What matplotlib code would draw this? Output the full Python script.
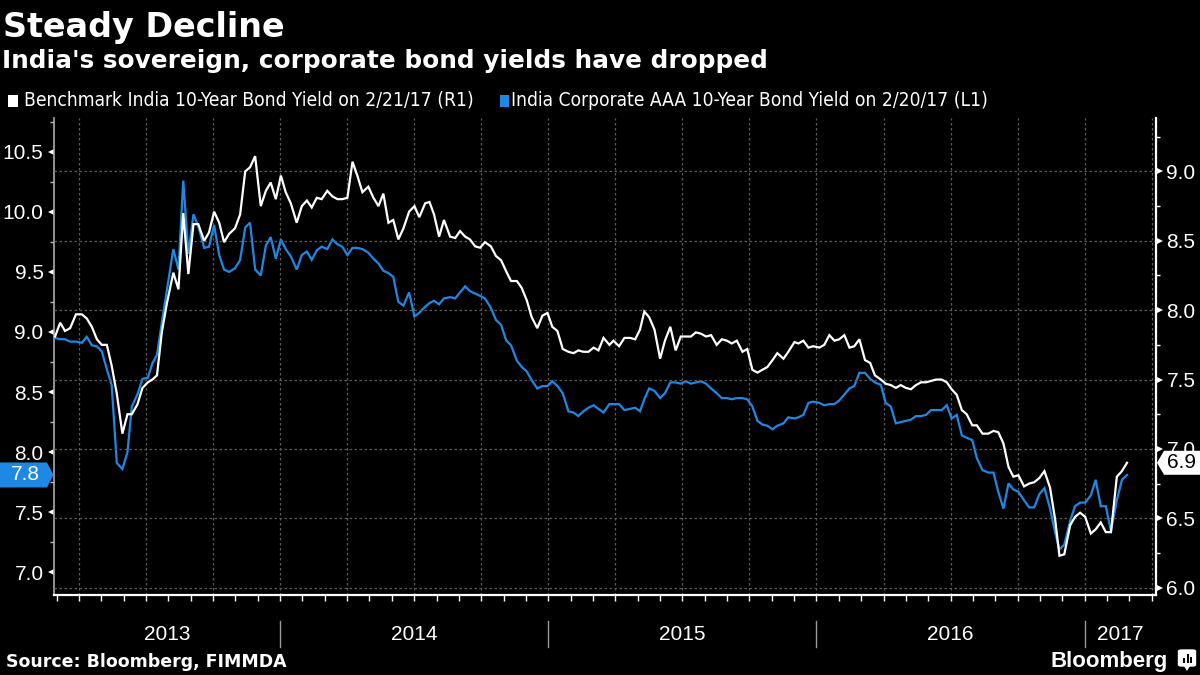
import matplotlib
matplotlib.use('Agg')
import matplotlib.pyplot as plt
import matplotlib.transforms as mtrans
from matplotlib.patches import Polygon, Rectangle, FancyBboxPatch
from matplotlib.ticker import FixedLocator, FormatStrFormatter
from matplotlib import font_manager as fm
import numpy as np

# ---------------- data (decimal years, weekly readings) ----------------
t = [2013.161, 2013.180, 2013.198, 2013.217, 2013.239, 2013.261, 2013.279, 2013.298, 2013.317, 2013.335,
     2013.354, 2013.372, 2013.391, 2013.412, 2013.431, 2013.447, 2013.468, 2013.487, 2013.507, 2013.524,
     2013.541, 2013.559, 2013.578, 2013.602, 2013.621, 2013.639, 2013.658, 2013.677, 2013.695, 2013.717,
     2013.735, 2013.754, 2013.773, 2013.791, 2013.810, 2013.832, 2013.851, 2013.870, 2013.888, 2013.907,
     2013.928, 2013.947, 2013.965, 2013.984, 2014.003, 2014.021, 2014.040, 2014.062, 2014.081, 2014.100,
     2014.118, 2014.137, 2014.155, 2014.176, 2014.195, 2014.214, 2014.232, 2014.251, 2014.270, 2014.288,
     2014.307, 2014.329, 2014.348, 2014.367, 2014.385, 2014.404, 2014.422, 2014.441, 2014.460, 2014.481,
     2014.501, 2014.519, 2014.541, 2014.557, 2014.574, 2014.593, 2014.611, 2014.634, 2014.653, 2014.671,
     2014.690, 2014.708, 2014.727, 2014.746, 2014.764, 2014.786, 2014.805, 2014.824, 2014.843, 2014.861,
     2014.883, 2014.901, 2014.920, 2014.938, 2014.959, 2014.978, 2014.997, 2015.015, 2015.034, 2015.054,
     2015.075, 2015.094, 2015.112, 2015.131, 2015.150, 2015.169, 2015.187, 2015.206, 2015.228, 2015.243,
     2015.264, 2015.284, 2015.305, 2015.324, 2015.342, 2015.358, 2015.376, 2015.396, 2015.417, 2015.435,
     2015.455, 2015.475, 2015.494, 2015.513, 2015.532, 2015.550, 2015.570, 2015.588, 2015.607, 2015.628,
     2015.647, 2015.666, 2015.684, 2015.703, 2015.724, 2015.742, 2015.761, 2015.780, 2015.798, 2015.817,
     2015.836, 2015.854, 2015.877, 2015.895, 2015.918, 2015.933, 2015.951, 2015.970, 2015.988, 2016.011,
     2016.029, 2016.048, 2016.067, 2016.085, 2016.104, 2016.123, 2016.141, 2016.160, 2016.181, 2016.200,
     2016.218, 2016.240, 2016.258, 2016.277, 2016.296, 2016.314, 2016.333, 2016.352, 2016.371, 2016.390,
     2016.409, 2016.427, 2016.446, 2016.467, 2016.486, 2016.504, 2016.523, 2016.542, 2016.560, 2016.581,
     2016.598, 2016.619, 2016.641, 2016.660, 2016.678, 2016.697, 2016.716, 2016.734, 2016.753, 2016.774,
     2016.793, 2016.812, 2016.831, 2016.850, 2016.871, 2016.890, 2016.906, 2016.924, 2016.946, 2016.964,
     2016.983, 2017.002, 2017.023, 2017.041, 2017.060, 2017.079, 2017.098, 2017.120, 2017.139, 2017.158]

# Benchmark India 10-Year Bond Yield (right axis, R1)
sovereign = [7.81, 7.91, 7.85, 7.87, 7.97, 7.97, 7.94, 7.88, 7.79, 7.75,
             7.75, 7.60, 7.40, 7.11, 7.25, 7.25, 7.32, 7.44, 7.48, 7.50,
             7.53, 7.84, 8.05, 8.27, 8.15, 8.70, 8.26, 8.62, 8.62, 8.50,
             8.56, 8.71, 8.63, 8.49, 8.55, 8.59, 8.69, 9.00, 9.03, 9.11,
             8.75, 8.86, 8.92, 8.80, 8.97, 8.85, 8.77, 8.63, 8.75, 8.79,
             8.74, 8.81, 8.80, 8.86, 8.82, 8.80, 8.80, 8.81, 9.07, 8.97,
             8.85, 8.89, 8.81, 8.75, 8.84, 8.63, 8.65, 8.51, 8.59, 8.71,
             8.75, 8.67, 8.77, 8.78, 8.69, 8.53, 8.65, 8.53, 8.52, 8.57,
             8.53, 8.51, 8.46, 8.45, 8.49, 8.46, 8.39, 8.36, 8.28, 8.21,
             8.21, 8.16, 8.07, 7.95, 7.87, 7.96, 7.98, 7.88, 7.85, 7.72,
             7.70, 7.69, 7.71, 7.70, 7.70, 7.73, 7.71, 7.80, 7.75, 7.78,
             7.74, 7.80, 7.80, 7.79, 7.86, 7.99, 7.95, 7.86, 7.65, 7.78,
             7.88, 7.71, 7.81, 7.81, 7.81, 7.84, 7.83, 7.81, 7.82, 7.75,
             7.79, 7.78, 7.76, 7.78, 7.70, 7.72, 7.57, 7.55, 7.57, 7.59,
             7.64, 7.69, 7.65, 7.70, 7.77, 7.76, 7.78, 7.73, 7.74, 7.73,
             7.75, 7.82, 7.78, 7.79, 7.82, 7.73, 7.74, 7.79, 7.64, 7.62,
             7.53, 7.50, 7.47, 7.46, 7.44, 7.46, 7.44, 7.43, 7.46, 7.48,
             7.48, 7.49, 7.50, 7.50, 7.48, 7.43, 7.39, 7.28, 7.25, 7.17,
             7.17, 7.11, 7.11, 7.13, 7.12, 7.04, 6.87, 6.80, 6.81, 6.73,
             6.75, 6.76, 6.79, 6.84, 6.72, 6.49, 6.23, 6.24, 6.45, 6.51,
             6.54, 6.51, 6.39, 6.42, 6.47, 6.40, 6.40, 6.80, 6.84, 6.90]

# India Corporate AAA 10-Year Bond Yield (left axis, L1)
corporate = [8.95, 8.94, 8.94, 8.92, 8.92, 8.91, 8.96, 8.89, 8.88, 8.84,
             8.69, 8.56, 7.91, 7.86, 8.00, 8.38, 8.48, 8.61, 8.62, 8.74,
             8.81, 9.08, 9.35, 9.69, 9.52, 10.26, 9.65, 9.98, 9.88, 9.70,
             9.71, 9.89, 9.64, 9.52, 9.50, 9.53, 9.60, 9.87, 9.91, 9.52,
             9.47, 9.72, 9.79, 9.61, 9.77, 9.69, 9.63, 9.52, 9.64, 9.67,
             9.60, 9.68, 9.71, 9.69, 9.77, 9.73, 9.71, 9.64, 9.70, 9.70,
             9.69, 9.66, 9.61, 9.57, 9.51, 9.49, 9.46, 9.25, 9.22, 9.33,
             9.13, 9.16, 9.21, 9.24, 9.26, 9.23, 9.28, 9.29, 9.28, 9.33,
             9.38, 9.34, 9.32, 9.30, 9.28, 9.20, 9.10, 9.06, 8.93, 8.89,
             8.76, 8.71, 8.67, 8.60, 8.53, 8.55, 8.55, 8.59, 8.55, 8.49,
             8.34, 8.33, 8.30, 8.34, 8.37, 8.39, 8.36, 8.33, 8.40, 8.40,
             8.40, 8.35, 8.36, 8.37, 8.34, 8.44, 8.53, 8.51, 8.45, 8.49,
             8.58, 8.58, 8.57, 8.59, 8.57, 8.58, 8.59, 8.57, 8.53, 8.49,
             8.45, 8.45, 8.44, 8.45, 8.45, 8.44, 8.38, 8.26, 8.23, 8.22,
             8.19, 8.22, 8.24, 8.29, 8.28, 8.29, 8.31, 8.41, 8.42, 8.41,
             8.39, 8.40, 8.40, 8.43, 8.48, 8.53, 8.55, 8.66, 8.66, 8.61,
             8.58, 8.56, 8.41, 8.38, 8.24, 8.25, 8.26, 8.27, 8.30, 8.30,
             8.31, 8.35, 8.35, 8.35, 8.39, 8.28, 8.31, 8.14, 8.12, 8.10,
             7.95, 7.85, 7.83, 7.83, 7.67, 7.53, 7.74, 7.69, 7.67, 7.60,
             7.54, 7.54, 7.65, 7.70, 7.53, 7.33, 7.19, 7.23, 7.43, 7.55,
             7.58, 7.58, 7.64, 7.77, 7.55, 7.55, 7.34, 7.60, 7.77, 7.81]

years = [2013, 2014, 2015, 2016, 2017]
left_ticks = [7.0, 7.5, 8.0, 8.5, 9.0, 9.5, 10.0, 10.5]
right_ticks = [6.0, 6.5, 7.0, 7.5, 8.0, 8.5, 9.0]

title = "Steady Decline"
subtitle = "India's sovereign, corporate bond yields have dropped"
label_sov = "Benchmark India 10-Year Bond Yield on 2/21/17 (R1)"
label_corp = "India Corporate AAA 10-Year Bond Yield on 2/20/17 (L1)"
source = "Source: Bloomberg, FIMMDA"

# ---------------- style ----------------
names = {f.name for f in fm.fontManager.ttflist}
SANS = 'Liberation Sans' if 'Liberation Sans' in names else 'DejaVu Sans'
NARROW = 'Liberation Sans Narrow' if 'Liberation Sans Narrow' in names else 'DejaVu Sans'
BLUE = '#1f88e5'
GRID = '#5c5c5c'
W, H = 1200, 675
L, R, B, T = 54, 1156, 595, 118

fig = plt.figure(figsize=(12, 6.75), dpi=100, facecolor='black')
ax = fig.add_axes([L / W, 1 - B / H, (R - L) / W, (B - T) / H])
ax.set_facecolor('black')
ax2 = ax.twinx()

ax.plot(t, corporate, color=BLUE, lw=1.6, solid_joinstyle='miter', zorder=3)
ax2.plot(t, sovereign, color='white', lw=1.6, solid_joinstyle='miter', zorder=3)

xmin, xmax = 2013.157, 2017.266
ax.set_xlim(xmin, xmax)
ax.set_ylim(6.811, 10.781)
ax2.set_ylim(5.947, 9.385)

# x axis: quarterly grid, monthly ticks
quarters = [y + q / 4 for y in range(2013, 2018) for q in range(4) if xmin < y + q / 4 < xmax]
months = [y + m / 12 for y in range(2013, 2018) for m in range(12) if xmin <= y + m / 12 < xmax]
ax.xaxis.set_major_locator(FixedLocator(quarters))
ax.xaxis.set_minor_locator(FixedLocator(months))
ax.tick_params(axis='x', which='both', length=4, width=1, color='white', direction='out',
               labelbottom=False)
ax.xaxis.grid(True, which='major', color=GRID, ls=(0, (2, 2)), lw=0.9)

# left axis
ax.yaxis.set_major_locator(FixedLocator(left_ticks))
ax.yaxis.set_minor_locator(FixedLocator([v + 0.25 for v in left_ticks]))
ax.yaxis.set_major_formatter(FormatStrFormatter('%.1f'))
ax.tick_params(axis='y', which='major', length=0, pad=7.5, labelsize=15, labelcolor='white')
ax.tick_params(axis='y', which='minor', length=3, width=1, color='#bbbbbb', direction='out')
for lab in ax.get_yticklabels():
    lab.set_fontfamily(SANS)

# right axis
ax2.yaxis.set_major_locator(FixedLocator(right_ticks))
ax2.yaxis.set_minor_locator(FixedLocator([v + 0.25 for v in right_ticks]))
ax2.yaxis.set_major_formatter(FormatStrFormatter('%.1f'))
ax2.tick_params(axis='y', which='major', length=0, pad=7.5, labelsize=15, labelcolor='white')
ax2.tick_params(axis='y', which='minor', length=3, width=1, color='white', direction='out')
for lab in ax2.get_yticklabels():
    lab.set_fontfamily(SANS)
ax2.yaxis.grid(True, which='major', color=GRID, ls=(0, (2, 2)), lw=0.9)

for a in (ax, ax2):
    a.spines['top'].set_visible(False)
ax.spines['right'].set_visible(False)
ax2.spines['left'].set_visible(False)
ax2.spines['bottom'].set_visible(False)
ax.spines['left'].set_color('#aaaaaa')
ax.spines['left'].set_linewidth(1.2)
ax.spines['bottom'].set_color('white')
ax.spines['bottom'].set_linewidth(1.6)
ax2.spines['right'].set_color('white')
ax2.spines['right'].set_linewidth(1.6)

# triangular major tick markers
tl = mtrans.blended_transform_factory(ax.transAxes, ax.transData) + \
    mtrans.ScaledTranslation(-3.5 / 100, 0, fig.dpi_scale_trans)
ax.plot([0] * len(left_ticks), left_ticks, ls='none', marker='<', ms=4.2, color='white',
        mew=0, transform=tl, clip_on=False)
tr = mtrans.blended_transform_factory(ax2.transAxes, ax2.transData) + \
    mtrans.ScaledTranslation(3.5 / 100, 0, fig.dpi_scale_trans)
ax2.plot([1] * len(right_ticks), right_ticks, ls='none', marker='>', ms=4.2, color='white',
         mew=0, transform=tr, clip_on=False)

# year labels and separators below the axis
tb = mtrans.blended_transform_factory(ax.transData, ax.transAxes)
for y in years:
    lo, hi = max(y, xmin), min(y + 1, xmax)
    ax.text((lo + hi) / 2, (B - 634) / (B - T), str(y), transform=tb, ha='center', va='center',
            color='white', fontsize=15, fontfamily=SANS)
    if xmin < y < xmax:
        ax.plot([y, y], [(B - 621) / (B - T), (B - 647) / (B - T)], transform=tb, color='#9a9a9a',
                lw=1, clip_on=False)

ax.set_xlim(xmin, xmax)
ax.set_ylim(6.811, 10.781)
ax2.set_ylim(5.947, 9.385)

# ---------------- titles, legend, footer ----------------
fig.text(3 / W, 1 - 37 / H, title, color='white', fontsize=24, fontweight='bold',
         fontfamily='DejaVu Sans', va='baseline')
fig.text(2 / W, 1 - 68 / H, subtitle, color='white', fontsize=17.8, fontweight='bold',
         fontfamily='DejaVu Sans', va='baseline')

fig.add_artist(Rectangle((8 / W, 1 - 107 / H), 10 / W, 12 / H, transform=fig.transFigure,
                         facecolor='white', edgecolor='none'))
t1 = fig.text(24 / W, 1 - 100.5 / H, label_sov, color='white', fontsize=13.8,
              fontfamily=NARROW, fontstretch='condensed', va='center')
fig.canvas.draw()
end1 = t1.get_window_extent().x1
xb = end1 + 26
fig.add_artist(Rectangle((xb / W, 1 - 107 / H), 9 / W, 12 / H, transform=fig.transFigure,
                         facecolor=BLUE, edgecolor='none'))
fig.text((xb + 11) / W, 1 - 100.5 / H, label_corp, color='white', fontsize=13.8,
         fontfamily=NARROW, fontstretch='condensed', va='center')

fig.text(6 / W, 1 - 662 / H, source, color='white', fontsize=12.5, fontweight='bold',
         fontfamily='DejaVu Sans', va='center')
fig.text(1168 / W, 1 - 661 / H, 'Bloomberg', color='white', fontsize=16, fontweight='bold',
         fontfamily=SANS, ha='right', va='center')
# small logo icon
fig.add_artist(FancyBboxPatch((1179 / W, 1 - 666 / H), 16 / W, 16 / H,
                              boxstyle='round,pad=0.001,rounding_size=0.003',
                              transform=fig.transFigure, facecolor='white', edgecolor='none'))
for bx, bh in [(1183, 5), (1186.5, 9), (1190, 6)]:
    fig.add_artist(Rectangle((bx / W, 1 - 663 / H), 2 / W, bh / H, transform=fig.transFigure,
                             facecolor='black', edgecolor='none'))
fig.add_artist(Polygon([(1184 / W, 1 - 666 / H), (1190 / W, 1 - 666 / H), (1187 / W, 1 - 671 / H)],
                       closed=True, transform=fig.transFigure, facecolor='white', edgecolor='none'))

# ---------------- last value tags ----------------
ident = mtrans.IdentityTransform()
yl = ax.transData.transform((xmin, corporate[-1]))[1]
fig.add_artist(Polygon([(0, yl - 12.5), (47, yl - 12.5), (53.5, yl), (47, yl + 12.5), (0, yl + 12.5)],
                       closed=True, transform=ident, facecolor=BLUE, edgecolor='none', zorder=5))
fig.text(25, yl, f'{corporate[-1]:.1f}', transform=ident, color='white', fontsize=15,
         fontfamily=SANS, ha='center', va='center', zorder=6)

yr_ = ax2.transData.transform((xmax, sovereign[-1]))[1]
fig.add_artist(Polygon([(1157, yr_), (1164, yr_ - 12), (1200, yr_ - 12), (1200, yr_ + 12), (1164, yr_ + 12)],
                       closed=True, transform=ident, facecolor='white', edgecolor='none', zorder=5))
fig.text(1181, yr_, f'{sovereign[-1]:.1f}', transform=ident, color='black', fontsize=15,
         fontfamily=SANS, ha='center', va='center', zorder=6)

fig.savefig('out.png', dpi=100, facecolor='black')
